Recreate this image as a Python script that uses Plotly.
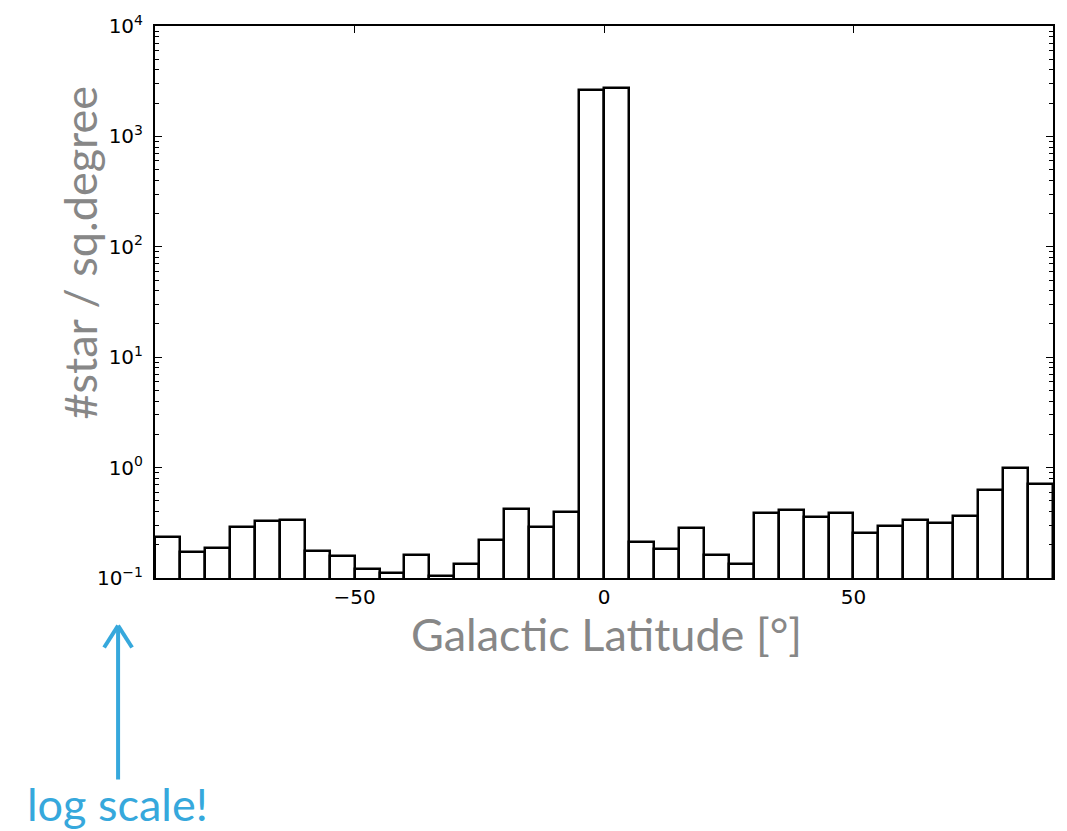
import numpy as np
import plotly.graph_objects as go

# Histogram bins (5 degree width) from -90 to 90
bin_left = list(range(-90, 90, 5))
bin_width = 5
density = [0.233, 0.173, 0.187, 0.291, 0.327, 0.337, 0.174, 0.157, 0.121, 0.112,
           0.160, 0.105, 0.134, 0.221, 0.420, 0.291, 0.397, 2606.0, 2754.0, 0.213,
           0.183, 0.281, 0.160, 0.134, 0.387, 0.411, 0.358, 0.389, 0.257, 0.295,
           0.337, 0.314, 0.363, 0.623, 0.984, 0.706]

ytick_vals = [0.1, 1, 10, 100, 1000, 10000]
ytick_text = ["10<sup>−1</sup>", "10<sup>0</sup>", "10<sup>1</sup>",
              "10<sup>2</sup>", "10<sup>3</sup>", "10<sup>4</sup>"]
minor_vals = [m * d for d in [0.1, 1, 10, 100, 1000] for m in range(2, 10)]
xtick_vals = [-50, 0, 50]
xtick_text = ["−50", "0", "50"]

W, H = 1067, 831
L, R, T, B = 155, 12, 22, 253
PW, PH = W - L - R, H - T - B

def px(x):
    return (x - L) / PW

def py(y):
    return (H - B - y) / PH

centers = [b + bin_width / 2 for b in bin_left]

fig = go.Figure()
fig.add_trace(go.Bar(
    x=centers, y=density, width=[bin_width] * len(centers),
    marker=dict(color="white", line=dict(color="black", width=2.5)),
    showlegend=False,
))

grey = "#878787"
blue = "#36a8dc"

fig.update_layout(
    width=W, height=H,
    margin=dict(l=L, r=R, t=T, b=B),
    plot_bgcolor="white", paper_bgcolor="white",
    bargap=0,
    xaxis=dict(
        range=[-90, 90], tickvals=xtick_vals, ticktext=xtick_text,
        ticks="inside", ticklen=7, tickwidth=1.2, tickcolor="black",
        showline=True, linecolor="black", linewidth=2, mirror="allticks",
        showgrid=False, zeroline=False,
        tickfont=dict(family="DejaVu Sans", size=20, color="black"),
    ),
    yaxis=dict(
        type="log", range=[-1, 4], tickvals=ytick_vals, ticktext=ytick_text,
        ticks="inside", ticklen=7, tickwidth=1.2, tickcolor="black",
        showline=True, linecolor="black", linewidth=2, mirror="allticks",
        showgrid=False, zeroline=False,
        minor=dict(tickmode="array", tickvals=minor_vals, ticks="inside",
                   ticklen=4, tickcolor="black", tickwidth=1, showgrid=False),
        tickfont=dict(family="DejaVu Sans", size=20, color="black"),
        ticklabelstandoff=6,
    ),
    shapes=[
        dict(type="line", xref="paper", yref="paper",
             x0=px(118), x1=px(118), y0=py(781), y1=py(628),
             line=dict(color=blue, width=4)),
        dict(type="line", xref="paper", yref="paper",
             x0=px(104), x1=px(118), y0=py(648), y1=py(626),
             line=dict(color=blue, width=4)),
        dict(type="line", xref="paper", yref="paper",
             x0=px(132), x1=px(118), y0=py(648), y1=py(626),
             line=dict(color=blue, width=4)),
    ],
    annotations=[
        dict(text="Galactic Latitude [°]", xref="paper", yref="paper",
             x=px(608), y=py(634), xanchor="center", yanchor="middle",
             showarrow=False, font=dict(family="Lato", size=45, color=grey)),
        dict(text="#star / sq.degree", xref="paper", yref="paper",
             x=px(80), y=py(250), xanchor="center", yanchor="middle",
             textangle=-90, showarrow=False,
             font=dict(family="Lato", size=45, color=grey)),
        dict(text="log scale!", xref="paper", yref="paper",
             x=px(117), y=py(806), xanchor="center", yanchor="middle",
             showarrow=False, font=dict(family="Lato", size=45, color=blue)),
    ],
)

fig.write_html("out.html")
